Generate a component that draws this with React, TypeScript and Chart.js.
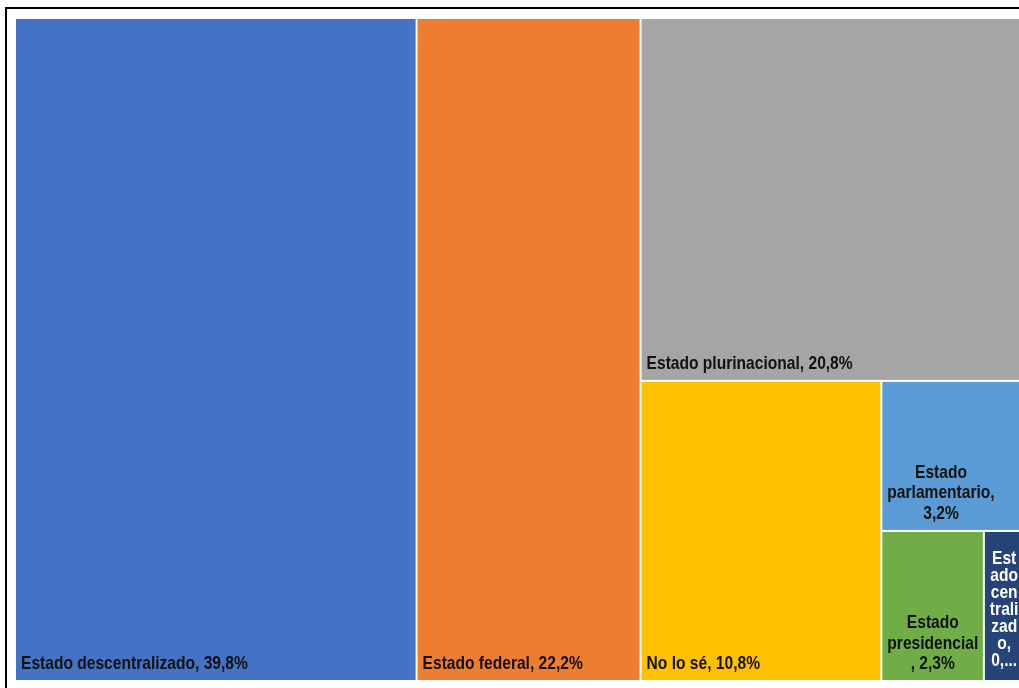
import React, { useEffect, useRef } from "react";
import { Chart, registerables } from "chart.js";

Chart.register(...registerables);

// ---- Data ----
const categories = [
  "Estado descentralizado",
  "Estado federal",
  "Estado plurinacional",
  "No lo sé",
  "Estado parlamentario",
  "Estado presidencial",
  "Estado centralizado",
];
const shares = [39.8, 22.2, 20.8, 10.8, 3.2, 2.3, 0.9];
const shareLabels = ["39,8%", "22,2%", "20,8%", "10,8%", "3,2%", "2,3%", "0,9%"];
// slicing direction used by the treemap layout for each item ("v" = column, "h" = row)
const sliceOrder = ["v", "v", "h", "v", "h", "v", "v"];
const fillColors = ["#4472C4", "#ED7D31", "#A5A5A5", "#FFC000", "#5B9BD5", "#70AD47", "#264478"];
const textColors = ["#111", "#111", "#111", "#111", "#111", "#111", "#fff"];

type Rect = { x0: number; y0: number; x1: number; y1: number };

function layoutTreemap(values: number[], dirs: string[]): Rect[] {
  let rem: Rect = { x0: 0, y0: 0, x1: 100, y1: 100 };
  let remSum = values.reduce((a, b) => a + b, 0);
  const out: Rect[] = [];
  values.forEach((v, i) => {
    const f = remSum > 0 ? v / remSum : 1;
    if (dirs[i] === "v") {
      const xs = rem.x0 + (rem.x1 - rem.x0) * f;
      out.push({ x0: rem.x0, y0: rem.y0, x1: xs, y1: rem.y1 });
      rem = { ...rem, x0: xs };
    } else {
      const ys = rem.y0 + (rem.y1 - rem.y0) * f;
      out.push({ x0: rem.x0, y0: rem.y0, x1: rem.x1, y1: ys });
      rem = { ...rem, y0: ys };
    }
    remSum -= v;
  });
  return out;
}

function wrapText(text: string, maxW: number, m: (s: string) => number): string[] {
  const words = text.split(" ");
  const lines: string[] = [];
  let cur = "";
  for (const word of words) {
    const cand = cur ? cur + " " + word : word;
    if (m(cand) <= maxW) {
      cur = cand;
      continue;
    }
    if (cur) {
      lines.push(cur);
      cur = "";
    }
    if (m(word) <= maxW) {
      cur = word;
      continue;
    }
    let piece = "";
    for (const ch of word) {
      if (!piece || m(piece + ch) <= maxW) piece += ch;
      else {
        lines.push(piece);
        piece = ch;
      }
    }
    cur = piece;
  }
  if (cur) lines.push(cur);
  return lines;
}

const treemapPlugin = {
  id: "treemapPlugin",
  afterDraw(chart: any) {
    const ctx: CanvasRenderingContext2D = chart.ctx;
    const xs = chart.scales.x;
    const ys = chart.scales.y;
    const rects = layoutTreemap(shares, sliceOrder);
    ctx.save();
    rects.forEach((r, i) => {
      const px0 = xs.getPixelForValue(r.x0) + 1;
      const px1 = xs.getPixelForValue(r.x1) - 1;
      const py0 = ys.getPixelForValue(r.y0) + 1;
      const py1 = ys.getPixelForValue(r.y1) - 1;
      ctx.fillStyle = fillColors[i];
      ctx.fillRect(px0, py0, px1 - px0, py1 - py0);
    });
    rects.forEach((r, i) => {
      const px0 = xs.getPixelForValue(r.x0) + 1;
      const px1 = xs.getPixelForValue(r.x1) - 1;
      const py0 = ys.getPixelForValue(r.y0) + 1;
      const py1 = ys.getPixelForValue(r.y1) - 1;
      const w = px1 - px0;
      const h = py1 - py0;
      const big = w >= 50;
      const fs = 19;
      const sx = 0.82;
      const lh = big ? 20.5 : 17;
      const bottomGap = big ? 11 : 14;
      ctx.font = `bold ${fs}px "Liberation Sans", Arial, sans-serif`;
      const m = (s: string) => ctx.measureText(s).width * sx;
      const maxW = w - 8;
      const text = `${categories[i]}, ${shareLabels[i]}`;
      let lines = wrapText(text, maxW, m);
      const maxLines = Math.max(1, Math.floor((h - 20) / lh));
      if (lines.length > maxLines) {
        const head = lines.slice(0, maxLines - 1);
        let rest = lines.slice(maxLines - 1).join("");
        while (rest.length > 0 && m(rest + "...") > maxW) rest = rest.slice(0, -1);
        lines = [...head, rest + "..."];
      }
      const boxW = Math.min(maxW, Math.max(...lines.map(m)));
      const cx = px0 + 5 + boxW / 2;
      const lastBase = py1 - bottomGap;
      ctx.fillStyle = textColors[i];
      ctx.textAlign = "center";
      ctx.textBaseline = "alphabetic";
      lines.forEach((ln, k) => {
        const by = lastBase - (lines.length - 1 - k) * lh;
        ctx.save();
        ctx.translate(cx, by);
        ctx.scale(sx, 1);
        ctx.fillText(ln, 0, 0);
        ctx.restore();
      });
    });
    ctx.restore();
  },
};

export default function App() {
  const ref = useRef<HTMLCanvasElement | null>(null);
  useEffect(() => {
    if (!ref.current) return;
    const chart = new Chart(ref.current, {
      type: "scatter",
      data: { datasets: [{ data: [], pointRadius: 0 }] },
      options: {
        responsive: false,
        animation: false,
        events: [],
        layout: { padding: { left: 8, top: 9, right: 13, bottom: 18 } },
        scales: {
          x: { type: "linear", min: 0, max: 100, display: false },
          y: { type: "linear", min: 0, max: 100, reverse: true, display: false },
        },
        plugins: { legend: { display: false }, tooltip: { enabled: false } },
      },
      plugins: [treemapPlugin],
    });
    return () => chart.destroy();
  }, []);
  return (
    <div style={{ position: "fixed", inset: 0, overflow: "hidden", background: "#fff" }}>
      <div
        style={{
          position: "absolute",
          left: 5,
          top: 7,
          width: 1030,
          height: 700,
          border: "2px solid #000",
          background: "#fff",
        }}
      >
        <canvas ref={ref} width={1030} height={690} style={{ display: "block" }} />
      </div>
    </div>
  );
}
